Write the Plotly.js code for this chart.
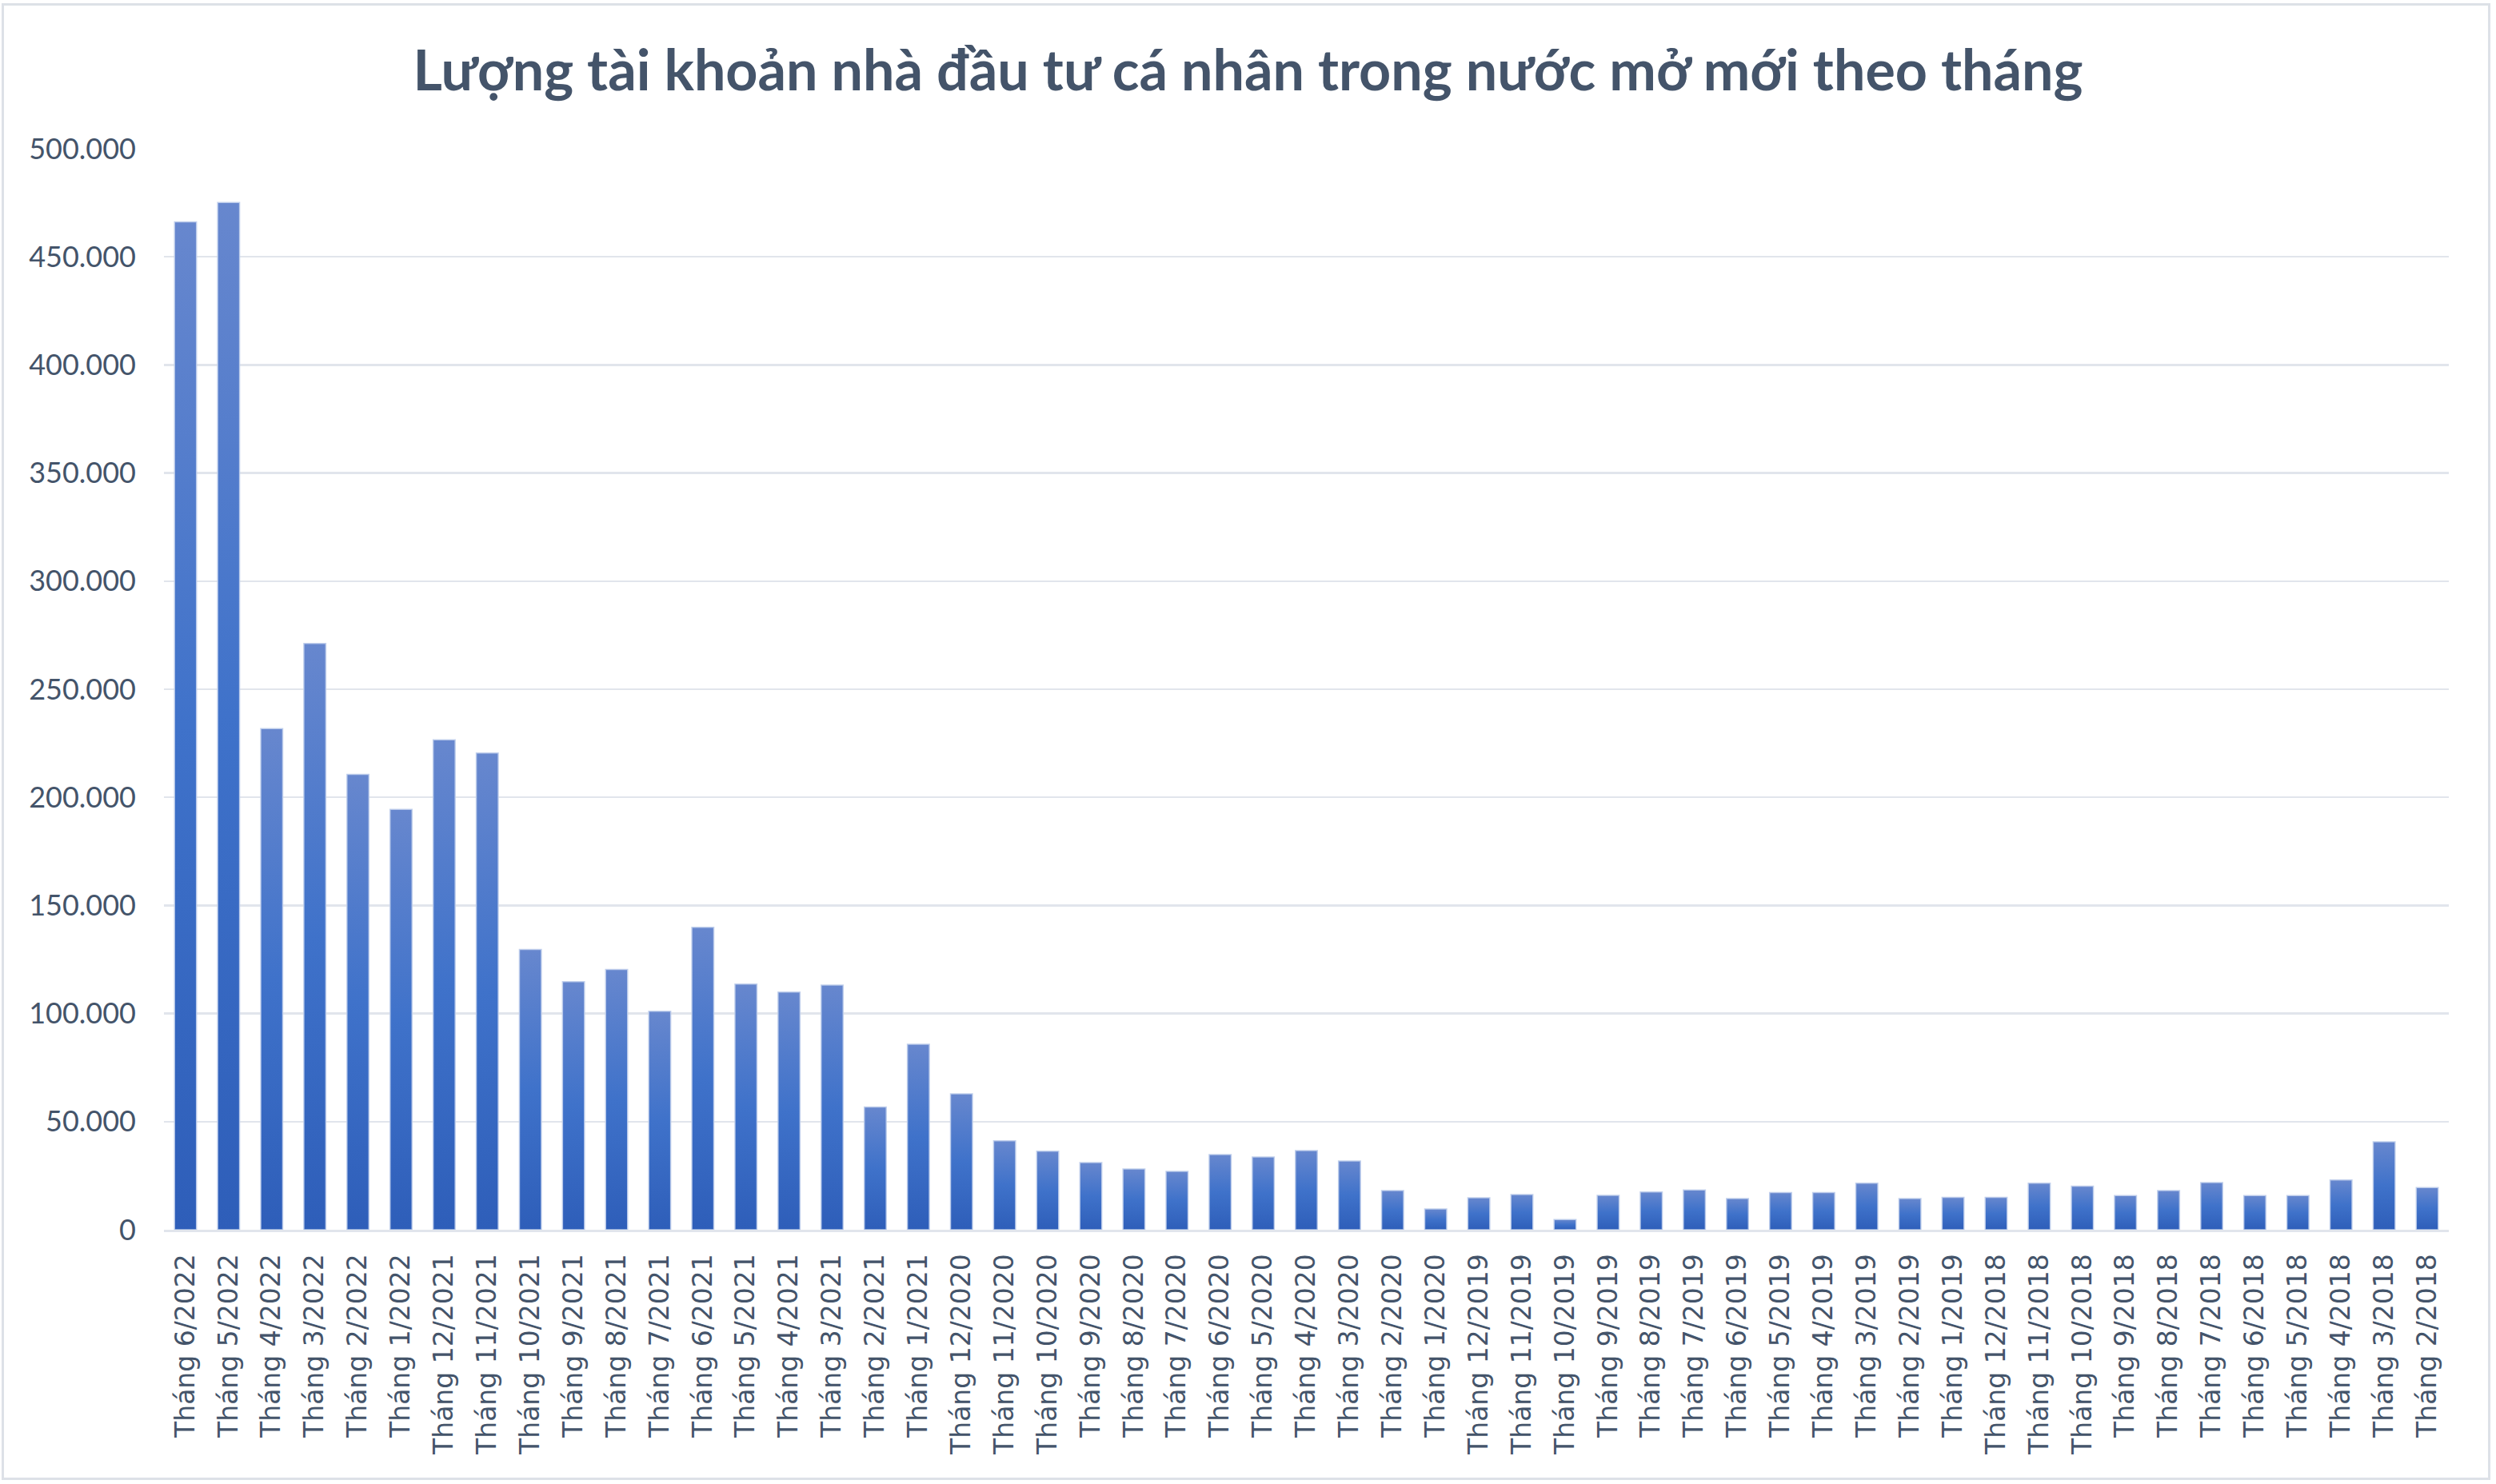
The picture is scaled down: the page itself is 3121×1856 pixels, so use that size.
<!DOCTYPE html>
<html>
<head>
<meta charset="utf-8">
<script src="https://cdn.plot.ly/plotly-3.0.1.min.js"></script>
<style>
  body { margin: 0; background: #fff; }
  #wrap { position: relative; width: 3121px; height: 1856px; }
  #frame { position: absolute; left: 2px; top: 4px; width: 3106px; height: 1841px;
           border: 3px solid #dde1e7; pointer-events: none; }
</style>
</head>
<body>
<div id="wrap">
  <div id="plot"></div>
  <div id="frame"></div>
</div>
<script>
// months, newest first (as in the source chart)
let months = [
  'Tháng 6/2022', 'Tháng 5/2022', 'Tháng 4/2022', 'Tháng 3/2022', 'Tháng 2/2022', 'Tháng 1/2022',
  'Tháng 12/2021', 'Tháng 11/2021', 'Tháng 10/2021', 'Tháng 9/2021', 'Tháng 8/2021', 'Tháng 7/2021',
  'Tháng 6/2021', 'Tháng 5/2021', 'Tháng 4/2021', 'Tháng 3/2021', 'Tháng 2/2021', 'Tháng 1/2021',
  'Tháng 12/2020', 'Tháng 11/2020', 'Tháng 10/2020', 'Tháng 9/2020', 'Tháng 8/2020', 'Tháng 7/2020',
  'Tháng 6/2020', 'Tháng 5/2020', 'Tháng 4/2020', 'Tháng 3/2020', 'Tháng 2/2020', 'Tháng 1/2020',
  'Tháng 12/2019', 'Tháng 11/2019', 'Tháng 10/2019', 'Tháng 9/2019', 'Tháng 8/2019', 'Tháng 7/2019',
  'Tháng 6/2019', 'Tháng 5/2019', 'Tháng 4/2019', 'Tháng 3/2019', 'Tháng 2/2019', 'Tháng 1/2019',
  'Tháng 12/2018', 'Tháng 11/2018', 'Tháng 10/2018', 'Tháng 9/2018', 'Tháng 8/2018', 'Tháng 7/2018',
  'Tháng 6/2018', 'Tháng 5/2018', 'Tháng 4/2018', 'Tháng 3/2018', 'Tháng 2/2018'
];

// new individual domestic investor accounts
let newAccounts = [
  466200, 475100, 231800, 271200, 210600, 194400,
  226600, 220500, 129600, 114700, 120400, 101100,
  139900, 113600, 109900, 113200, 56800, 85800,
  62900, 41100, 36300, 31100, 28100, 27000,
  34800, 33700, 36600, 31800, 18100, 9600,
  14800, 16300, 4700, 15900, 17500, 18400,
  14400, 17200, 17200, 21500, 14400, 15000,
  15000, 21500, 20200, 15800, 18100, 21800,
  15800, 15800, 23000, 40700, 19500
];

let titleText = 'Lượng tài khoản nhà đầu tư cá nhân trong nước mở mới theo tháng';
let yTicks = [0, 50000, 100000, 150000, 200000, 250000, 300000, 350000, 400000, 450000, 500000];

let textColor = '#44546a';

let trace = {
  type: 'bar',
  x: months,
  y: newAccounts,
  marker: {
    color: '#3f70c8',
    line: {color: 'rgba(190,205,235,0.9)', width: 1.5}
  },
  hoverinfo: 'x+y'
};

let layout = {
  width: 3121,
  height: 1856,
  paper_bgcolor: '#ffffff',
  plot_bgcolor: '#ffffff',
  separators: ',.',
  margin: {l: 205, r: 59, t: 186, b: 318, pad: 0},
  bargap: 0.49,
  showlegend: false,
  title: {
    text: '<b>' + titleText + '</b>',
    font: {family: 'Lato', size: 70, color: textColor},
    x: 0.5,
    xref: 'container',
    y: 1 - 88 / 1856,
    yref: 'container',
    yanchor: 'middle'
  },
  xaxis: {
    type: 'category',
    tickangle: -90,
    tickfont: {family: 'DejaVu Sans', size: 33, color: textColor},
    showgrid: false,
    showline: true,
    linecolor: '#e1e5ec',
    linewidth: 3,
    ticks: '',
    ticklabelstandoff: 14
  },
  yaxis: {
    range: [0, 500000],
    tickvals: yTicks,
    tickformat: ',d',
    tickfont: {family: 'Lato', size: 36, color: textColor},
    showgrid: true,
    gridcolor: '#e1e5ec',
    gridwidth: 2.5,
    zeroline: false,
    showline: false,
    ticks: '',
    ticklabelstandoff: 34
  }
};

Plotly.newPlot('plot', [trace], layout, {displayModeBar: false, staticPlot: true}).then(function (gd) {
  // Excel-like vertical gradient on every bar
  let svg = gd.querySelector('svg.main-svg');
  let ns = 'http://www.w3.org/2000/svg';
  let defs = svg.querySelector('defs') || svg.insertBefore(document.createElementNS(ns, 'defs'), svg.firstChild);
  let grad = document.createElementNS(ns, 'linearGradient');
  grad.setAttribute('id', 'barGrad');
  grad.setAttribute('x1', '0'); grad.setAttribute('y1', '0');
  grad.setAttribute('x2', '0'); grad.setAttribute('y2', '1');
  [['0', '#6787ce'], ['0.5', '#3f72ca'], ['1', '#2e5eb9']].forEach(function (s) {
    let stop = document.createElementNS(ns, 'stop');
    stop.setAttribute('offset', s[0]);
    stop.setAttribute('stop-color', s[1]);
    grad.appendChild(stop);
  });
  defs.appendChild(grad);
  gd.querySelectorAll('.bars .point path').forEach(function (p) {
    p.style.fill = 'url(#barGrad)';
  });
});
</script>
</body>
</html>
